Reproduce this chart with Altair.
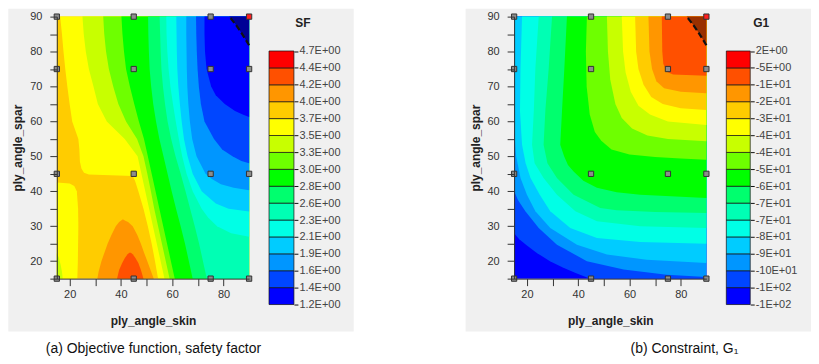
import json
import altair as alt
import pandas as pd

# ---------------- colours of the 15 bands (top = highest value) ----------------
BAND_COLORS = ["#ff0000", "#ff5000", "#ff9600", "#ffcc00", "#ffff00", "#c8ff00",
               "#6eff00", "#00ff00", "#00ff6e", "#00ffb4", "#00ffe6", "#00ccff",
               "#0096ff", "#0046ff", "#0000ff"]
SF_INFEAS_COLOR = "#000096"
G1_INFEAS_COLOR = "#993000"

# legend tick labels, top to bottom
SF_TICKS = ["4.7E+00", "4.4E+00", "4.2E+00", "4.0E+00", "3.7E+00", "3.5E+00", "3.3E+00",
            "3.0E+00", "2.8E+00", "2.6E+00", "2.3E+00", "2.1E+00", "1.9E+00", "1.6E+00",
            "1.4E+00", "1.2E+00"]
G1_TICKS = ["2E+00", "-5E+00", "-1E+01", "-2E+01", "-3E+01", "-4E+01", "-4E+01", "-5E+01",
            "-6E+01", "-7E+01", "-7E+01", "-8E+01", "-9E+01", "-10E+01", "-1E+02", "-1E+02"]

# design points
DESIGN_X = [15, 45, 75, 90]
DESIGN_Y = [15, 45, 75, 90]
BEST_X, BEST_Y = 90, 90

# infeasible corner (G1 > 0), dashed boundary
INFEAS_Y = [81.8, 83.5, 85.7, 87.8, 90]
INFEAS_X = [90, 88.6, 86.7, 84.7, 82.3]

# ---------------- SF contour boundaries (x of boundary at each y) ----------------
Y16 = [15, 20, 25, 30, 35, 40, 45, 50, 55, 60, 65, 70, 75, 80, 85, 90]
SF_37_Y = [15, 20, 25, 30, 35, 40, 43, 44.4, 44.8, 45.3, 46.5, 48.5, 52, 55, 60, 65, 70, 75, 80, 85, 90]
SF_37_X = [54.5, 53.3, 52.0, 50.5, 48.8, 46.8, 45.5, 44.6, 27.5, 25.6, 24.6, 24.0, 23.8, 23.4,
           21.0, 20.0, 19.1, 18.3, 17.6, 17.0, 16.3]
SF_35_X = [57, 55.5, 54, 52.5, 51, 49.5, 48, 46.5, 41.5, 34.5, 31, 29.3, 27.5, 26.3, 25.5, 25.0]
SF_33_X = [59, 57.5, 56, 54.5, 53, 51.7, 50.3, 48.8, 46.3, 42, 39, 37, 35.3, 34.2, 33.5, 33.1]
SF_30_X = [61, 59.5, 58, 56.5, 55, 53.5, 52, 50.5, 49, 47, 45.2, 43.5, 42, 41.2, 40.6, 40.2]
SF_28_X = [68, 66.5, 65, 63.3, 61.5, 59.8, 58.2, 56.6, 55, 53.7, 52.6, 51.8, 51.2, 50.9, 50.7, 50.6]
SF_26_X = [73.5, 72, 70.5, 68.8, 67, 65.2, 63.3, 61.3, 59.6, 58.2, 57.2, 56.4, 55.8, 55.5, 55.3, 55.1]
SF_23_Y = [27, 28, 30, 32.5, 35, 40, 45, 50, 55, 60, 65, 70, 75, 80, 85, 90]
SF_23_X = [90, 83, 77.5, 74, 71.5, 68, 65.6, 63.9, 62.6, 61.4, 60.3, 59.3, 58.6, 58.1, 57.8, 57.7]
SF_21_Y = [34.2, 35, 36.5, 40, 45, 50, 55, 60, 65, 70, 75, 80, 85, 90]
SF_21_X = [90, 82, 77, 71.5, 68, 66, 64.6, 63.7, 63, 62.4, 62, 61.8, 61.7, 61.6]
SF_19_Y = [40.3, 41, 42, 43.5, 45, 50, 55, 60, 65, 70, 75, 80, 85, 90]
SF_19_X = [90, 84, 79, 75.5, 73, 69.5, 67.8, 66.9, 66.3, 65.9, 65.7, 65.6, 65.5, 65.5]
SF_16_Y = [48, 48.7, 50, 52, 55, 60, 65, 70, 75, 80, 85, 90]
SF_16_X = [90, 87, 83.5, 79.5, 76.3, 72.6, 71.2, 70.4, 69.9, 69.6, 69.4, 69.3]
SF_14_Y = [61.3, 62, 63, 65, 67.5, 70, 75, 80, 85, 90]
SF_14_X = [90, 87.5, 84.5, 80.5, 77, 75.2, 73.4, 72.8, 72.6, 72.6]
# left-hand pieces (x from 15 to the given x)
SF_LEFT37_Y = [15, 20, 25, 30, 35, 40, 41.5, 42.2, 42.5]
SF_LEFT37_X = [23.0, 23.2, 23.3, 23.4, 23.3, 22.8, 21.8, 20.0, 15.0]
SF_LEFT35_Y = [15, 17, 19, 21, 22.3]
SF_LEFT35_X = [17.3, 17.0, 16.5, 15.8, 15.0]
# peaks at the bottom (x from left to right boundary)
SF_40_Y = [15, 17, 20, 22.5, 25, 27.5, 30, 31.2, 31.6, 31.9]
SF_40_XL = [30.8, 31.3, 32.4, 33.6, 34.8, 36.3, 38.0, 39.3, 40.0, 40.6]
SF_40_XR = [52.8, 51.8, 50.3, 49.0, 47.8, 46.4, 44.6, 42.8, 41.7, 40.9]
SF_42_Y = [15, 17.5, 19.5, 21, 22, 22.4]
SF_42_XL = [38.5, 39.3, 40.5, 41.6, 42.6, 43.3]
SF_42_XR = [48.8, 47.8, 46.8, 45.6, 44.6, 43.9]

# ---------------- G1 contour boundaries (higher value to the upper right) ----------------
G1_13_Y = [15, 16.6, 18.2, 20, 22.3, 24.5, 26.3, 28, 90]
G1_13_X = [44.7, 39, 34, 29, 24, 20, 17, 15, 15]
G1_12_Y = [15.5, 16.1, 17.6, 20, 24.7, 29.5, 34.3, 37.5, 40, 90]
G1_12_X = [90, 74.5, 57.7, 43.4, 31.7, 24.6, 19.4, 16.5, 15, 15]
G1_11_Y = [19.5, 20.4, 21.9, 24.7, 29.5, 34.3, 39, 43.8, 50, 58, 90]
G1_11_X = [90, 66.7, 51.2, 39.5, 29.1, 23.3, 20, 17.5, 15.8, 15, 15]
G1_10_Y = [25, 25.5, 26.6, 29.5, 34.3, 39, 43.8, 48, 53.3, 63, 75, 90]
G1_10_X = [90, 64.2, 47.3, 36.9, 29.1, 25, 21.4, 19.5, 18.1, 17.3, 17.5, 18.1]
G1_9_Y = [29.5, 30, 31.4, 34.3, 39, 43.8, 48, 53.3, 63.3, 75.2, 90]
G1_9_X = [90, 64.2, 47.3, 38.9, 31.7, 26.5, 23, 22, 22.7, 23.3, 24.6]
G1_8_Y = [33.8, 34.1, 34.6, 35.2, 39, 43.8, 48, 53.3, 63.3, 75.2, 90]
G1_8_X = [90, 70, 55, 48.6, 38.2, 31.7, 28, 26.5, 27.2, 28.5, 29.8]
G1_7_Y = [38.1, 39, 39.7, 41, 43, 45.7, 47.5, 50, 53.3, 63.3, 75.2, 90]
G1_7_X = [90, 64.2, 55, 47.3, 42, 38.2, 36, 34.5, 33, 33.7, 34.6, 35.6]
G1_6_Y = [49, 49.4, 49.8, 50.5, 52, 54.5, 57, 62, 70, 80, 90]
G1_6_X = [90, 80, 70, 60, 53, 49, 46.5, 44.5, 43.3, 43, 43.4]
G1_5_Y = [54.3, 55, 56, 58, 61, 65, 72, 80, 90]
G1_5_X = [90, 75, 67, 61, 57, 54.5, 52.5, 51.6, 51.2]
G1_4_Y = [59, 60, 62, 64.5, 68.5, 74, 80, 90]
G1_4_X = [90, 75, 68, 63.5, 60.5, 58.5, 57.5, 57]
G1_3_Y = [63.3, 63.8, 65, 67, 70.5, 75, 80, 90]
G1_3_X = [90, 80, 73, 68.5, 65.5, 63.5, 62.6, 62.2]
G1_2_Y = [68.1, 68.5, 69.5, 71.5, 75, 80, 90]
G1_2_X = [90, 80, 73.5, 70.5, 68.8, 67.8, 67.4]
G1_1_Y = [73.1, 73.4, 74.2, 76.5, 80, 90]
G1_1_X = [90, 77, 74.5, 73.2, 72.8, 72.6]

FULL_Y = [15, 90]
FULL_X = [15, 15]


def right_piece(ys, xs, color):
    return (color, ys, xs, [90] * len(ys))


SF_PIECES = [
    right_piece(FULL_Y, FULL_X, BAND_COLORS[3]),
    (BAND_COLORS[4], SF_LEFT37_Y, [15] * len(SF_LEFT37_Y), SF_LEFT37_X),
    (BAND_COLORS[5], SF_LEFT35_Y, [15] * len(SF_LEFT35_Y), SF_LEFT35_X),
    right_piece(SF_37_Y, SF_37_X, BAND_COLORS[4]),
    right_piece(Y16, SF_35_X, BAND_COLORS[5]),
    right_piece(Y16, SF_33_X, BAND_COLORS[6]),
    right_piece(Y16, SF_30_X, BAND_COLORS[7]),
    right_piece(Y16, SF_28_X, BAND_COLORS[8]),
    right_piece(Y16, SF_26_X, BAND_COLORS[9]),
    right_piece(SF_23_Y, SF_23_X, BAND_COLORS[10]),
    right_piece(SF_21_Y, SF_21_X, BAND_COLORS[11]),
    right_piece(SF_19_Y, SF_19_X, BAND_COLORS[12]),
    right_piece(SF_16_Y, SF_16_X, BAND_COLORS[13]),
    right_piece(SF_14_Y, SF_14_X, BAND_COLORS[14]),
    (BAND_COLORS[2], SF_40_Y, SF_40_XL, SF_40_XR),
    (BAND_COLORS[1], SF_42_Y, SF_42_XL, SF_42_XR),
    right_piece(INFEAS_Y, INFEAS_X, SF_INFEAS_COLOR),
]

G1_PIECES = [
    right_piece(FULL_Y, FULL_X, BAND_COLORS[14]),
    right_piece(G1_13_Y, G1_13_X, BAND_COLORS[13]),
    right_piece(G1_12_Y, G1_12_X, BAND_COLORS[12]),
    right_piece(G1_11_Y, G1_11_X, BAND_COLORS[11]),
    right_piece(G1_10_Y, G1_10_X, BAND_COLORS[10]),
    right_piece(G1_9_Y, G1_9_X, BAND_COLORS[9]),
    right_piece(G1_8_Y, G1_8_X, BAND_COLORS[8]),
    right_piece(G1_7_Y, G1_7_X, BAND_COLORS[7]),
    right_piece(G1_6_Y, G1_6_X, BAND_COLORS[6]),
    right_piece(G1_5_Y, G1_5_X, BAND_COLORS[5]),
    right_piece(G1_4_Y, G1_4_X, BAND_COLORS[4]),
    right_piece(G1_3_Y, G1_3_X, BAND_COLORS[3]),
    right_piece(G1_2_Y, G1_2_X, BAND_COLORS[2]),
    right_piece(G1_1_Y, G1_1_X, BAND_COLORS[1]),
    right_piece(INFEAS_Y, INFEAS_X, G1_INFEAS_COLOR),
]

W, H = 193, 263
FONT = "Liberation Sans"
XS = alt.Scale(domain=[15, 90], nice=False, zero=False)
YS = alt.Scale(domain=[15, 90], nice=False, zero=False)

X_AXIS = alt.Axis(title="ply_angle_skin", values=list(range(20, 81, 10)),
                  labelExpr="datum.value % 20 == 0 ? datum.label : ''",
                  tickSize=7, labelPadding=3, labelFontSize=11, labelFont=FONT,
                  labelColor="#333", titleFont=FONT, titleFontSize=12, titleFontWeight="bold",
                  titleColor="#222", titlePadding=16, domainColor="#333", tickColor="#333",
                  grid=False, labelFlush=False, zindex=1)
Y_AXIS = alt.Axis(title="ply_angle_spar", values=list(range(15, 91, 5)),
                  labelExpr="datum.value % 10 == 0 ? datum.label : ''",
                  tickSize=7, labelPadding=8, labelFontSize=11, labelFont=FONT,
                  labelColor="#333", titleFont=FONT, titleFontSize=12, titleFontWeight="bold",
                  titleColor="#222", titlePadding=5, domainColor="#333", tickColor="#333",
                  grid=False, labelFlush=False, zindex=1)


def pieces_df(pieces):
    rows = []
    for i, (color, ys, x1s, x2s) in enumerate(pieces):
        for y, a, b in zip(ys, x1s, x2s):
            rows.append({"piece": i, "y": y, "x1": a, "x2": b})
    return pd.DataFrame(rows)


def panel(pieces, caption, caption_x):
    df = pieces_df(pieces)
    bg = alt.Chart(pd.DataFrame({"a": [0]})).mark_rect(color="#f0f0f0").encode(
        x=alt.value(-48.7), x2=alt.value(W + 105), y=alt.value(-8), y2=alt.value(316))
    layers = [bg]
    for i, (color, *_r) in enumerate(pieces):
        layers.append(
            alt.Chart(df).transform_filter(alt.datum.piece == i)
            .mark_area(orient="horizontal", color=color, opacity=1)
            .encode(y=alt.Y("y:Q", scale=YS, axis=Y_AXIS),
                    x=alt.X("x1:Q", scale=XS, axis=X_AXIS),
                    x2="x2:Q")
        )
    inf = pd.DataFrame({"y": INFEAS_Y, "x1": INFEAS_X})
    layers.append(
        alt.Chart(inf).mark_line(color="#111", strokeWidth=2.2, strokeDash=[6, 3])
        .encode(x=alt.X("x1:Q", scale=XS, axis=X_AXIS), y=alt.Y("y:Q", scale=YS, axis=Y_AXIS),
                order="y:Q"))
    pts = [{"x1": x, "y": y, "kind": "best" if (x == BEST_X and y == BEST_Y) else "design"}
           for y in DESIGN_Y for x in DESIGN_X]
    layers.append(
        alt.Chart(pd.DataFrame(pts)).mark_square(size=28, stroke="#333", strokeWidth=1, opacity=1)
        .encode(x=alt.X("x1:Q", scale=XS, axis=X_AXIS), y=alt.Y("y:Q", scale=YS, axis=Y_AXIS),
                color=alt.Color("kind:N", scale=alt.Scale(domain=["design", "best"],
                                                          range=["#8c8c8c", "#ff2020"]),
                                legend=None)))
    layers.append(
        alt.Chart(pd.DataFrame({"t": [caption]})).mark_text(
            fontSize=14, font="Liberation Sans Narrow, Arial Narrow, Liberation Sans",
            align="center", baseline="middle", color="#111")
        .encode(text="t:N", x=alt.value(caption_x), y=alt.value(334)))
    return alt.layer(*layers).properties(width=W, height=H)


def legend(ticks, title, bar_w, title_x):
    n = len(ticks) - 1
    ldf = pd.DataFrame({"lo": list(range(n)), "hi": list(range(1, n + 1)),
                        "c": list(reversed(BAND_COLORS))})
    labels = list(reversed(ticks))
    yscale = alt.Scale(domain=[0, n], range=[289, 34.5], nice=False, zero=False)
    bars = alt.Chart(ldf).mark_rect(stroke="#111", strokeWidth=0.7).encode(
        y=alt.Y("lo:Q", scale=yscale,
                axis=alt.Axis(orient="right", values=list(range(n + 1)),
                              labelExpr=json.dumps(labels) + "[datum.value]",
                              tickSize=4, labelPadding=1, domain=False, grid=False,
                              tickColor="#111", labelFontSize=11, labelFont=FONT,
                              labelColor="#444", title=None, labelFlush=False)),
        y2="hi:Q",
        x=alt.value(0), x2=alt.value(bar_w),
        color=alt.Color("c:N", scale=None))
    ttl = alt.Chart(pd.DataFrame({"t": [title]})).mark_text(
        fontSize=12, fontWeight="bold", font=FONT, color="#222", align="center",
        baseline="middle").encode(text="t:N", x=alt.value(title_x), y=alt.value(6))
    return alt.layer(bars, ttl).properties(width=bar_w, height=289)


spacer = alt.Chart(pd.DataFrame({"a": [0]})).mark_point(opacity=0).encode(
    x=alt.value(0), y=alt.value(0)).properties(width=180.3, height=10)

chart = alt.hconcat(
    panel(SF_PIECES, "(a) Objective function, safety factor", 97),
    legend(SF_TICKS, "SF", 25, 34),
    spacer,
    panel(G1_PIECES, "(b) Constraint, G\u2081", 171),
    legend(G1_TICKS, "G1", 24, 35),
    spacing=20, bounds="flush",
).configure_view(stroke=None).properties(padding=0)

chart.save("out.html", embed_options={"renderer": "svg", "actions": False})
